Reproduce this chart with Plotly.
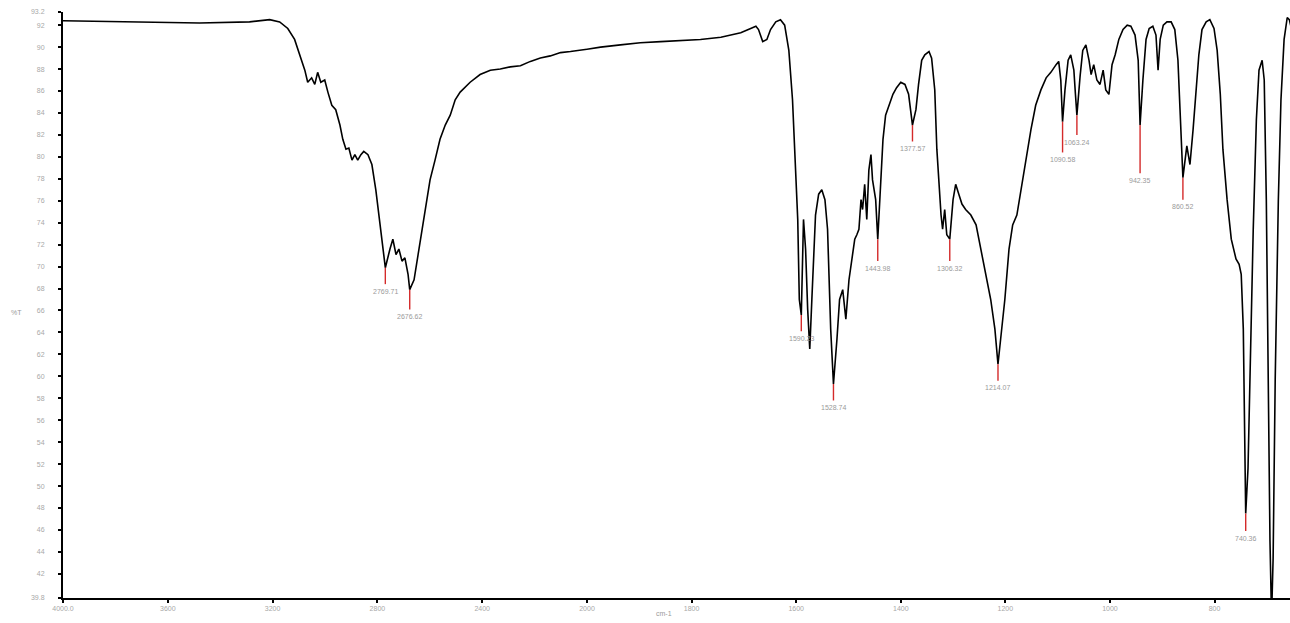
import plotly.graph_objects as go

# ---- data: IR spectrum (wavenumber cm-1, %T) ----
wavenumber = [
    4000, 3479, 3288, 3211, 3173, 3142, 3116, 3097, 3077, 3066, 3051, 3039, 3028, 3016, 3001,
    2989, 2974, 2959, 2943, 2932, 2920, 2909, 2897, 2886, 2875, 2863, 2852, 2836, 2821, 2806,
    2790, 2778, 2769.7, 2752, 2741, 2729, 2718, 2706, 2695, 2683, 2676.6, 2660, 2645, 2630,
    2614, 2599, 2580, 2561, 2541, 2522, 2503, 2484, 2446, 2408, 2369, 2331, 2293, 2254, 2216,
    2178, 2140, 2101, 2063, 2025, 2000,
    1974, 1936, 1898, 1859, 1821, 1783, 1744, 1725, 1706, 1687, 1677, 1672, 1664, 1656, 1649,
    1639, 1630, 1622, 1614, 1607, 1601, 1597, 1594, 1590.2, 1586, 1582, 1578, 1574, 1570, 1566,
    1563, 1557, 1551, 1545, 1540, 1534, 1528.7, 1522, 1517, 1511, 1505, 1499, 1494, 1488, 1484,
    1480, 1476, 1473, 1469, 1465, 1461, 1457, 1454, 1448, 1444.0, 1438, 1434, 1429, 1423, 1415,
    1408, 1400, 1392, 1385, 1377.6, 1371, 1366, 1360, 1354, 1346, 1341, 1335, 1331, 1327, 1323,
    1320, 1316, 1312, 1306.3, 1300, 1295, 1289, 1283, 1276, 1266, 1256, 1247, 1237, 1228, 1220,
    1214.1, 1209, 1201, 1193, 1186, 1178, 1170, 1161, 1151, 1142, 1132, 1122, 1113, 1103, 1098,
    1094, 1090.6, 1086, 1080, 1075, 1069, 1066, 1063.2, 1057, 1052, 1046, 1040, 1036, 1031, 1025,
    1019, 1013, 1008, 1002, 996, 990, 983, 975, 967, 960, 952, 946, 944, 942.4, 937, 931, 925,
    918, 912, 908, 904, 898, 891, 883, 876, 870, 866, 863, 860.5, 853, 847, 841, 835, 830, 824,
    816, 809, 801, 795, 789, 784, 776, 768, 759, 753, 749, 745, 742, 740.4, 736, 732, 726, 720,
    715, 709, 705, 701, 697, 694, 691, 688, 684, 678, 673, 667, 661, 657, 650,
]
transmittance = [
    92.4, 92.2, 92.3, 92.5, 92.3, 91.7, 90.7, 89.3, 87.9, 86.8, 87.2, 86.6, 87.7, 86.8, 87.0,
    85.9, 84.7, 84.3, 82.9, 81.6, 80.7, 80.8, 79.7, 80.2, 79.7, 80.2, 80.5, 80.2, 79.3, 77.0,
    73.8, 71.1, 69.9, 71.6, 72.5, 71.1, 71.6, 70.5, 70.8, 69.3, 67.9, 68.8, 71.1, 73.4,
    75.7, 77.9, 79.7, 81.6, 82.9, 83.8, 85.2, 85.9, 86.8, 87.5, 87.9, 88.0, 88.2, 88.3, 88.7,
    89.0, 89.2, 89.5, 89.6, 89.7, 89.8,
    90.0, 90.2, 90.4, 90.5, 90.6, 90.7, 90.9, 91.1, 91.3, 91.7, 91.9, 91.6, 90.5, 90.7, 91.6,
    92.3, 92.5, 92.0, 89.7, 85.2, 78.8, 74.3, 67.0, 65.6, 74.3, 71.6, 66.1, 62.5, 67.0, 72.5,
    74.7, 76.6, 77.0, 76.1, 73.4, 64.3, 59.3, 63.4, 67.0, 67.9, 65.2, 68.8, 70.6, 72.5, 72.9,
    73.4, 76.1, 75.2, 77.5, 74.3, 78.8, 80.2, 77.9, 76.1, 72.5, 77.9, 81.6, 83.8, 84.7, 85.7,
    86.3, 86.8, 86.6, 85.7, 82.9, 84.3, 86.6, 88.8, 89.3, 89.6, 89.0, 86.1, 80.7, 77.5, 74.7,
    73.4, 75.2, 72.9, 72.5, 76.1, 77.5, 76.6, 75.7, 75.2, 74.7, 73.8, 71.6, 69.3, 67.0, 64.3,
    61.1, 63.4, 67.0, 71.6, 73.8, 74.7, 77.0, 79.7, 82.5, 84.7, 86.1, 87.2, 87.7, 88.4, 88.7,
    87.0, 83.2, 86.1, 88.8, 89.3, 87.9, 85.7, 83.8, 87.4, 89.7, 90.2, 88.8, 87.5, 88.4, 87.0,
    86.6, 87.9, 86.1, 85.7, 88.4, 89.3, 90.7, 91.6, 92.0, 91.9, 91.1, 88.8, 86.1, 82.9, 87.0, 90.7, 91.7,
    91.9, 91.1, 87.9, 90.7, 92.0, 92.3, 92.3, 91.6, 88.8, 84.3, 80.7, 78.1, 81.0, 79.3, 82.5, 86.1, 89.3, 91.6,
    92.3, 92.5, 91.7, 89.7, 85.7, 80.7, 76.1, 72.5, 70.7, 70.2, 69.3, 64.3, 53.4, 47.5, 51.6, 61.6, 73.4, 83.4,
    87.9, 88.8, 87.0, 76.1, 56.1, 45.0, 38.0, 43.4, 59.7, 76.1, 85.2, 90.7, 92.7, 92.5, 91.1,
]

peak_wn = [2769.7, 2676.6, 1590.2, 1528.7, 1444.0, 1377.6, 1306.3, 1214.1, 1090.6, 1063.2, 942.4, 860.5, 740.4]
peak_t = [69.9, 67.9, 65.6, 59.3, 72.5, 82.9, 72.5, 61.1, 83.2, 83.8, 82.9, 78.1, 47.5]
peak_labels = ["2769.71", "2676.62", "1590.23", "1528.74", "1443.98", "1377.57", "1306.32",
               "1214.07", "1090.58", "1063.24", "942.35", "860.52", "740.36"]

x_ticks_hi = [4000, 3600, 3200, 2800, 2400, 2000]
x_ticktext_hi = ["4000.0", "3600", "3200", "2800", "2400", "2000"]
x_ticks_lo = [1800, 1600, 1400, 1200, 1000, 800]
x_ticktext_lo = ["1800", "1600", "1400", "1200", "1000", "800"]
x_end_value, x_end_text = 650, "650.0"
y_ticks = [39.8] + list(range(42, 93, 2)) + [93.2]
y_ticktext = ["39.8"] + [str(v) for v in range(42, 93, 2)] + ["93.2"]

# ---- styling (not data) ----
label_drop = [1.5, 1.8, 1.5, 1.5, 2.0, 1.5, 2.0, 1.5, 2.8, 1.8, 4.4, 2.0, 1.6]
SPLIT = 2000
W, H = 1299, 623
ML, MR, MT, MB = 63, 0, 12, 25
plot_w = W - ML - MR
plot_h = H - MT - MB
split_frac = 0.4267
x_end = 653.8
tick_font = dict(family="Liberation Sans", size=7, color="#a8a8a8")
label_font = dict(family="Liberation Sans", size=7, color="#9a9a9a")

fig = go.Figure()

hi_x = [w for w in wavenumber if w >= SPLIT]
hi_y = [t for w, t in zip(wavenumber, transmittance) if w >= SPLIT]
lo_x = [w for w in wavenumber if w <= SPLIT]
lo_y = [t for w, t in zip(wavenumber, transmittance) if w <= SPLIT]

for xs, ys, xa in [(hi_x, hi_y, "x"), (lo_x, lo_y, "x2")]:
    fig.add_trace(go.Scatter(x=xs, y=ys, mode="lines", xaxis=xa, yaxis="y",
                             line=dict(color="black", width=1.6), hoverinfo="x+y"))

# red peak markers
for axis_name, cond in [("x", lambda w: w >= SPLIT), ("x2", lambda w: w < SPLIT)]:
    sx, sy = [], []
    for w, t, d in zip(peak_wn, peak_t, label_drop):
        if cond(w):
            sx += [w, w, None]
            sy += [t, t - d, None]
    fig.add_trace(go.Scatter(x=sx, y=sy, mode="lines", xaxis=axis_name, yaxis="y",
                             line=dict(color="#d42a2a", width=1.4), hoverinfo="skip"))

annotations = []
for w, t, d, lab in zip(peak_wn, peak_t, label_drop, peak_labels):
    annotations.append(dict(x=w, y=t - d - 0.15, xref="x" if w >= SPLIT else "x2", yref="y",
                            text=lab, showarrow=False, yanchor="top", xanchor="center",
                            font=label_font))
# last x tick label, sitting at the window edge
annotations.append(dict(x=x_end_value, y=-0.0085, xref="x2", yref="paper", text=x_end_text,
                        showarrow=False, yanchor="top", xanchor="center", font=tick_font))
annotations.append(dict(x=(9 - ML) / plot_w, y=(598 - 312) / plot_h,
                        xref="paper", yref="paper", text="%T", showarrow=False,
                        font=label_font))
annotations.append(dict(x=(668 - ML) / plot_w, y=-(619 - 598) / plot_h,
                        xref="paper", yref="paper", text="cm-1", showarrow=False,
                        font=label_font))

axis_common = dict(showline=True, linecolor="black", linewidth=2, ticks="outside",
                   ticklen=3, tickwidth=2, tickcolor="black", showgrid=False, zeroline=False,
                   tickfont=tick_font, anchor="y")

fig.update_layout(
    width=W, height=H, autosize=False,
    margin=dict(l=ML, r=MR, t=MT, b=MB),
    paper_bgcolor="white", plot_bgcolor="white",
    showlegend=False,
    xaxis=dict(domain=[0, split_frac], range=[4000, SPLIT], tickmode="array",
               tickvals=x_ticks_hi, ticktext=x_ticktext_hi, **axis_common),
    xaxis2=dict(domain=[split_frac, 1], range=[SPLIT, x_end], tickmode="array",
                tickvals=x_ticks_lo, ticktext=x_ticktext_lo, **axis_common),
    yaxis=dict(range=[39.8, 93.2], tickmode="array", tickvals=y_ticks, ticktext=y_ticktext,
               showline=True, linecolor="black", linewidth=2, ticks="outside", ticklen=3,
               tickwidth=2, tickcolor="black", showgrid=False, zeroline=False,
               tickfont=tick_font, ticklabelstandoff=12),
    annotations=annotations,
)

fig.write_html(
    "out.html",
    config={"responsive": False, "displayModeBar": False},
    post_script="document.body.style.margin='0';document.body.style.overflow='hidden';",
)
